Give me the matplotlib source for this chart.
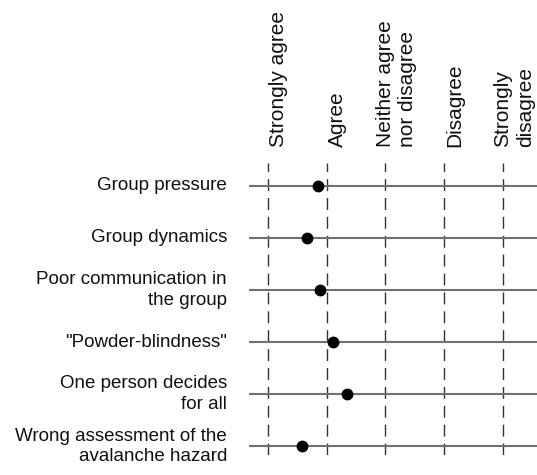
import matplotlib
matplotlib.use("Agg")
import matplotlib.pyplot as plt
import matplotlib.transforms as mtransforms

plt.rcParams['font.family'] = ['Liberation Sans', 'DejaVu Sans']
plt.rcParams['lines.scale_dashes'] = False

scale_labels = ["Strongly agree", "Agree", "Neither agree\nnor disagree",
                "Disagree", "Strongly\ndisagree"]
scale_values = [1, 2, 3, 4, 5]
items = ["Group pressure", "Group dynamics", "Poor communication in\nthe group",
         "\"Powder-blindness\"", "One person decides\nfor all",
         "Wrong assessment of the\navalanche hazard"]
means = [1.85, 1.66, 1.88, 2.10, 2.34, 1.58]

W, H = 537, 475
fig = plt.figure(figsize=(W / 100, H / 100), dpi=100)
ax = fig.add_axes([249 / W, 1 - 455 / H, (W - 249) / W, (455 - 163) / H])
ax.set_xlim(0.677, 5.579)
ax.set_ylim(5.17, -0.44)
ax.axis('off')

rows = list(range(len(items)))
for v in scale_values:
    ax.axvline(v, color='#333333', lw=1.0, dashes=(8.6, 5.0), zorder=1)
for r in rows:
    ax.axhline(r, color='#707070', lw=1.5, zorder=2)
ax.plot(means, rows, 'o', color='black', markersize=7.5, zorder=3, clip_on=False)

trans_rows = mtransforms.blended_transform_factory(fig.transFigure, ax.transData)
for r, lab in zip(rows, items):
    ax.text(227 / W, r, lab, transform=trans_rows, ha='right', va='center',
            multialignment='right', fontsize=13.5, linespacing=1.25, color='#111111')

trans_head = mtransforms.blended_transform_factory(ax.transData, fig.transFigure) + \
    mtransforms.ScaledTranslation(11 / 100, 0, fig.dpi_scale_trans)
for v, lab in zip(scale_values, scale_labels):
    ax.text(v, 1 - 147 / H, lab, transform=trans_head, rotation=90, ha='center',
            va='bottom', multialignment='left', fontsize=15, linespacing=1.25,
            color='#111111', clip_on=False)

fig.savefig("out.png", dpi=100)
